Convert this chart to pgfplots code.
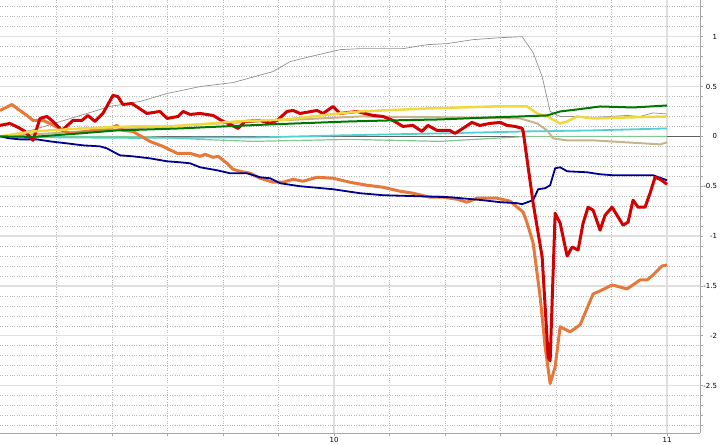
\documentclass[border=0pt]{standalone}
\usepackage{pgfplots}
\pgfplotsset{compat=1.18}
\usepackage{fontspec}
\setmainfont{DejaVu Sans}
\definecolor{cRed}{HTML}{D20000}
\definecolor{cOrange}{HTML}{E8783A}
\definecolor{cNavy}{HTML}{000090}
\definecolor{cGreen}{HTML}{007800}
\definecolor{cYellow}{HTML}{F0D840}
\definecolor{cTan}{HTML}{C8B48C}
\definecolor{cCyan}{HTML}{50D0D0}
\definecolor{cLGreen}{HTML}{80C890}
\definecolor{cGray}{HTML}{909090}
\definecolor{cZero}{HTML}{606060}
\begin{document}
\begin{tikzpicture}
\begin{axis}[
  name=ax,
  scale only axis,
  width=700bp, height=433bp,
  xmin=8.997, xmax=11.099,
  ymin=-2.975, ymax=1.368,
  axis x line*=bottom, axis y line*=right,
  axis line style={draw=gray!70, line width=0.8bp},
  xtick={10,11},
  minor xtick={9.1667,9.3333,9.5,9.6667,9.8333,10.1667,10.3333,10.5,10.6667,10.8333},
  ytick={-2.5,-2,-1.5,-1,-0.5,0,0.5,1},
  minor ytick={-2.9,-2.8,-2.7,-2.6,-2.4,-2.3,-2.2,-2.1,-1.9,-1.8,-1.7,-1.6,-1.4,-1.3,-1.2,-1.1,-0.9,-0.8,-0.7,-0.6,-0.4,-0.3,-0.2,-0.1,0.1,0.2,0.3,0.4,0.6,0.7,0.8,0.9,1.1,1.2,1.3},
  tick align=outside,
  major tick length=3bp, minor tick length=3bp,
  tick style={draw=gray!70, line width=0.6bp},
  grid=both,
  major grid style={draw=gray!25, line width=1.3bp},
  minor grid style={draw=gray!55, dotted, line width=0.6bp},
  /pgf/number format/assume math mode=true,
  ticklabel style={font=\fontsize{7}{8}\selectfont, text=black},
  yticklabel style={anchor=east, xshift=17.5bp},
  xticklabel style={yshift=2bp},
  clip=false,
]
\coordinate (bl) at (rel axis cs:0,0);
\coordinate (tr) at (rel axis cs:1,1);
% zero line
\addplot[cZero, line width=0.8bp] coordinates {(8.997,0) (11.099,0)};
% gray
\addplot[cGray, line width=0.7bp] coordinates {
(8.997,0) (9.096,0.065) (9.327,0.30) (9.417,0.35) (9.499,0.43) (9.598,0.50) (9.697,0.54) (9.817,0.65) (9.868,0.75) (9.928,0.80) (10.018,0.87) (10.078,0.88) (10.207,0.88) (10.279,0.92) (10.339,0.93) (10.417,0.97) (10.499,0.99) (10.565,1.00) (10.598,0.84) (10.625,0.60) (10.649,0.25) (10.679,0.20) (10.730,0.20) (10.778,0.19) (10.880,0.21) (10.919,0.20) (10.958,0.235) (11.000,0.225)};
% light green
\addplot[cLGreen, line width=1.2bp] coordinates {
(8.997,0) (9.426,0.00) (9.598,-0.03) (9.757,-0.05) (10.048,-0.03) (10.318,-0.05) (10.580,0.00) (10.658,0.00) (11.000,0.00)};
% cyan
\addplot[cCyan, line width=1.8bp] coordinates {
(8.997,0) (9.177,-0.01) (9.396,-0.015) (9.778,-0.01) (10.018,0.01) (10.318,0.03) (10.580,0.05) (10.778,0.06) (11.000,0.08)};
% tan
\addplot[cTan, line width=2bp] coordinates {
(8.997,0) (9.297,0.06) (9.598,0.12) (9.898,0.17) (10.078,0.20) (10.378,0.19) (10.559,0.18) (10.610,0.13) (10.640,0.06) (10.658,-0.02) (10.700,-0.04) (10.778,-0.04) (10.880,-0.06) (10.979,-0.08) (11.000,-0.06)};
% orange
\addplot[cOrange, line width=3bp, line join=round] coordinates {
(8.997,0.26) (9.033,0.32) (9.048,0.28) (9.078,0.21) (9.096,0.16) (9.126,0.16) (9.147,0.13) (9.186,0.06) (9.207,0.03) (9.258,0.05) (9.288,0.07) (9.327,0.08) (9.348,0.11) (9.366,0.06) (9.396,0.05) (9.447,-0.05) (9.486,-0.10) (9.529,-0.17) (9.568,-0.17) (9.598,-0.20) (9.613,-0.18) (9.637,-0.21) (9.652,-0.20) (9.679,-0.27) (9.697,-0.33) (9.718,-0.35) (9.748,-0.37) (9.778,-0.42) (9.817,-0.46) (9.847,-0.46) (9.877,-0.43) (9.907,-0.45) (9.949,-0.41) (9.997,-0.42) (10.048,-0.46) (10.099,-0.49) (10.147,-0.51) (10.198,-0.55) (10.237,-0.57) (10.288,-0.61) (10.327,-0.61) (10.369,-0.63) (10.399,-0.66) (10.429,-0.62) (10.489,-0.62) (10.529,-0.65) (10.550,-0.71) (10.568,-0.76) (10.580,-0.87) (10.598,-1.07) (10.619,-1.61) (10.634,-2.11) (10.649,-2.48) (10.664,-2.31) (10.679,-1.91) (10.709,-1.96) (10.739,-1.89) (10.778,-1.58) (10.799,-1.55) (10.835,-1.49) (10.880,-1.53) (10.919,-1.44) (10.940,-1.44) (10.958,-1.39) (10.985,-1.30) (11.000,-1.29)};
% navy
\addplot[cNavy, line width=1.8bp] coordinates {
(8.997,0) (9.027,-0.02) (9.057,-0.03) (9.108,-0.03) (9.147,-0.05) (9.198,-0.07) (9.246,-0.09) (9.297,-0.10) (9.318,-0.12) (9.357,-0.19) (9.396,-0.20) (9.447,-0.22) (9.499,-0.25) (9.538,-0.26) (9.568,-0.27) (9.598,-0.31) (9.649,-0.34) (9.688,-0.37) (9.739,-0.37) (9.778,-0.41) (9.808,-0.42) (9.838,-0.47) (9.898,-0.50) (9.997,-0.53) (10.078,-0.57) (10.147,-0.59) (10.249,-0.60) (10.348,-0.61) (10.447,-0.64) (10.499,-0.66) (10.550,-0.67) (10.565,-0.68) (10.589,-0.65) (10.598,-0.64) (10.613,-0.53) (10.634,-0.52) (10.649,-0.49) (10.664,-0.32) (10.679,-0.31) (10.700,-0.35) (10.760,-0.36) (10.799,-0.38) (10.838,-0.39) (10.958,-0.39) (11.000,-0.44)};
% red
\addplot[cRed, line width=3bp, line join=round] coordinates {
(8.997,0.11) (9.027,0.13) (9.057,0.08) (9.072,0.05) (9.096,-0.04) (9.117,0.18) (9.138,0.20) (9.156,0.15) (9.183,0.06) (9.216,0.16) (9.243,0.16) (9.261,0.21) (9.282,0.15) (9.306,0.23) (9.336,0.41) (9.351,0.40) (9.366,0.32) (9.393,0.33) (9.438,0.23) (9.477,0.25) (9.499,0.18) (9.532,0.20) (9.547,0.25) (9.568,0.22) (9.598,0.23) (9.637,0.21) (9.667,0.15) (9.682,0.13) (9.712,0.08) (9.733,0.15) (9.778,0.16) (9.808,0.13) (9.829,0.16) (9.859,0.25) (9.877,0.26) (9.898,0.23) (9.949,0.26) (9.967,0.23) (9.997,0.30) (10.018,0.23) (10.069,0.25) (10.117,0.21) (10.147,0.20) (10.177,0.16) (10.207,0.10) (10.237,0.11) (10.264,0.05) (10.282,0.11) (10.309,0.06) (10.348,0.06) (10.363,0.03) (10.387,0.08) (10.414,0.14) (10.438,0.11) (10.468,0.13) (10.499,0.14) (10.520,0.11) (10.544,0.10) (10.565,0.08) (10.568,0.05) (10.598,-0.67) (10.625,-1.21) (10.643,-2.21) (10.649,-2.25) (10.664,-0.77) (10.679,-0.87) (10.700,-1.20) (10.715,-1.11) (10.733,-1.14) (10.748,-0.87) (10.763,-0.71) (10.778,-0.74) (10.799,-0.94) (10.814,-0.79) (10.835,-0.71) (10.868,-0.89) (10.883,-0.86) (10.898,-0.64) (10.913,-0.71) (10.934,-0.71) (10.949,-0.57) (10.964,-0.41) (10.979,-0.43) (11.000,-0.48)};
% yellow
\addplot[cYellow, line width=2.5bp] coordinates {
(8.997,0) (9.096,0.05) (9.246,0.08) (9.396,0.10) (9.508,0.10) (9.709,0.15) (9.859,0.17) (9.988,0.22) (10.078,0.25) (10.279,0.28) (10.477,0.30) (10.580,0.30) (10.610,0.23) (10.640,0.20) (10.679,0.13) (10.700,0.15) (10.730,0.20) (10.778,0.18) (10.880,0.19) (11.000,0.20)};
% dark green
\addplot[cGreen, line width=2bp] coordinates {
(8.997,0) (9.096,-0.005) (9.237,0.03) (9.348,0.06) (9.447,0.07) (9.538,0.08) (9.667,0.10) (9.808,0.12) (10.048,0.15) (10.168,0.16) (10.318,0.17) (10.468,0.19) (10.559,0.20) (10.640,0.21) (10.679,0.25) (10.730,0.27) (10.799,0.30) (10.898,0.29) (11.000,0.31)};
\end{axis}
\pgfresetboundingbox
\path[use as bounding box] ([yshift=-12bp]bl) rectangle ([xshift=20bp]tr);
\end{tikzpicture}
\end{document}
